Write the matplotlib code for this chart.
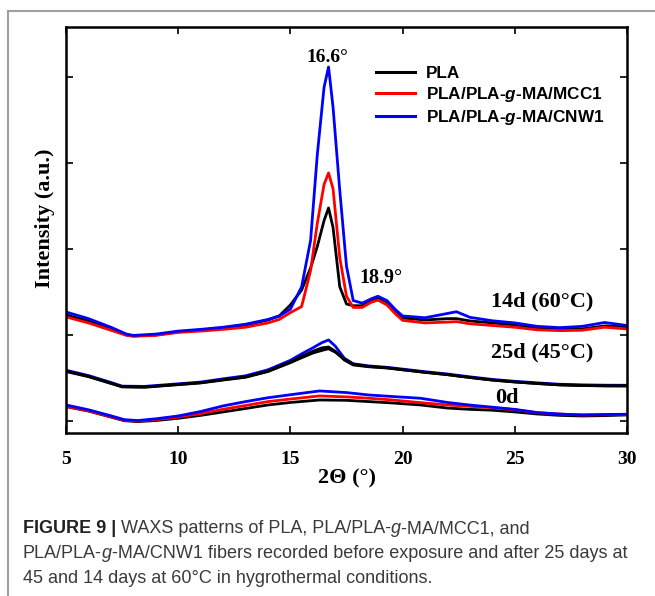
import numpy as np
import matplotlib
matplotlib.use('Agg')
import matplotlib.pyplot as plt
from matplotlib.lines import Line2D

plt.rcParams['mathtext.fontset'] = 'custom'
plt.rcParams['mathtext.it'] = 'Liberation Sans:italic:bold'
plt.rcParams['mathtext.rm'] = 'Liberation Sans:bold'

# 14 days at 60 C
x14 = [5, 6, 7, 7.7, 8, 9, 10, 11, 12, 13, 14, 14.5, 15, 15.5, 15.9, 16.2, 16.5, 16.7, 16.9,
       17.2, 17.5, 17.8, 18.2, 18.6, 18.9, 19.3, 19.7, 20, 21, 22, 22.4, 23, 24, 25, 26, 27, 28, 29, 30]
pla_14 = [1233, 1163, 1070, 1000, 988, 1000, 1035, 1058, 1081, 1116, 1174, 1221, 1349, 1523, 1780,
          2030, 2330, 2477, 2250, 1560, 1360, 1340, 1340, 1400, 1430, 1372, 1267, 1198, 1174, 1190,
          1190, 1163, 1140, 1116, 1081, 1070, 1070, 1105, 1093]
mcc_14 = [1210, 1140, 1055, 995, 985, 995, 1030, 1045, 1065, 1090, 1140, 1180, 1260, 1330, 1750,
          2300, 2750, 2884, 2700, 1900, 1450, 1320, 1320, 1380, 1405, 1350, 1240, 1170, 1140, 1150,
          1155, 1130, 1110, 1090, 1060, 1050, 1055, 1090, 1070]
cnw_14 = [1267, 1190, 1090, 1010, 995, 1010, 1045, 1065, 1090, 1125, 1180, 1220, 1300, 1560, 2100,
          3100, 3880, 4116, 3650, 2680, 1800, 1400, 1370, 1420, 1450, 1400, 1290, 1221, 1200, 1250,
          1270, 1205, 1165, 1140, 1100, 1085, 1100, 1145, 1110]

# 25 days at 45 C
x25 = [5, 6, 7, 7.5, 8.5, 10, 11, 12, 13, 14, 15, 15.5, 16, 16.4, 16.7, 17, 17.4, 17.8, 18.5,
       19.3, 20, 21, 22, 23, 24, 25, 26, 27, 28, 29, 30]
pla_25 = [581, 520, 440, 399, 395, 425, 445, 480, 512, 580, 686, 750, 810, 850, 860, 810, 709, 651,
          630, 616, 595, 565, 538, 505, 475, 453, 435, 419, 412, 408, 407]
mcc_25 = [575, 515, 436, 396, 392, 422, 442, 476, 508, 575, 678, 735, 790, 820, 840, 800, 720, 660,
          634, 618, 596, 566, 539, 506, 476, 454, 436, 420, 413, 409, 408]
cnw_25 = [590, 528, 448, 405, 402, 432, 452, 490, 525, 595, 705, 780, 850, 910, 942, 870, 730, 665,
          640, 624, 603, 573, 546, 513, 483, 461, 443, 427, 420, 416, 415]

# 0 days
x0 = [5, 6, 7, 7.6, 8.2, 9, 10, 11, 12, 13, 14, 15, 16.3, 17.5, 18.5, 19.5, 20.8, 22, 23, 24,
      25, 26, 27, 28, 29, 30]
pla_0 = [167, 115, 45, 3, -8, 5, 31, 65, 105, 145, 186, 215, 244, 240, 225, 210, 186, 150, 135,
         125, 105, 81, 65, 58, 62, 70]
mcc_0 = [170, 118, 50, 8, -2, 15, 45, 85, 136, 180, 225, 255, 291, 280, 264, 245, 213, 186, 170,
         155, 130, 97, 80, 70, 72, 75]
cnw_0 = [186, 130, 60, 15, 5, 25, 58, 110, 175, 225, 270, 305, 349, 330, 302, 285, 264, 215, 185,
         160, 135, 97, 80, 70, 75, 78]

fig = plt.figure(figsize=(6.55, 5.96), dpi=100)
ax = fig.add_axes([66/655, 1-433/596, 561/655, 406/596])

lw = 2.0
ax.plot(x0, pla_0, color='black', lw=lw)
ax.plot(x0, mcc_0, color='red', lw=lw)
ax.plot(x0, cnw_0, color='blue', lw=lw)
ax.plot(x25, cnw_25, color='blue', lw=lw)
ax.plot(x25, mcc_25, color='black', lw=lw)
ax.plot(x25, pla_25, color='black', lw=lw)
ax.plot(x14, pla_14, color='black', lw=lw)
ax.plot(x14, mcc_14, color='red', lw=lw)
ax.plot(x14, cnw_14, color='blue', lw=lw)

ax.set_xlim(5, 30)
ax.set_ylim(-140, 4581)
ax.set_xticks([5, 10, 15, 20, 25, 30])
ax.set_yticks([0, 1000, 2000, 3000, 4000])
ax.set_yticklabels([])
ax.tick_params(direction='in', top=True, right=True, length=5, width=1.2, pad=13)
for lab in ax.get_xticklabels():
    lab.set_fontfamily('Liberation Serif')
    lab.set_fontweight('bold')
    lab.set_fontsize(14)
for sp in ax.spines.values():
    sp.set_linewidth(1.8)

ax.set_xlabel('2Θ (°)', family='Liberation Serif', weight='bold', fontsize=16, labelpad=0)
ax.set_ylabel('Intensity (a.u.)', family='Liberation Serif', weight='bold', fontsize=16)
ax.yaxis.set_label_coords(-0.019, 0.53)

tf = dict(family='Liberation Serif', weight='bold', ha='center', va='center')
ax.text(16.63, 4230, '16.6°', fontsize=14, **tf)
ax.text(19.04, 1663, '18.9°', fontsize=14.5, **tf)
ax.text(26.21, 1384, '14d (60°C)', fontsize=16, **tf)
ax.text(26.21, 791, '25d (45°C)', fontsize=16, **tf)
ax.text(24.65, 267, '0d', fontsize=16, **tf)

handles = [Line2D([], [], color='black', lw=2.2),
           Line2D([], [], color='red', lw=2.2),
           Line2D([], [], color='blue', lw=2.2)]
labels = ['PLA', 'PLA/PLA-$g$-MA/MCC1', 'PLA/PLA-$g$-MA/CNW1']
ax.legend(handles, labels, loc='upper left', bbox_to_anchor=(0.54, 0.922), frameon=False,
          prop={'family': 'Liberation Sans', 'weight': 'bold', 'size': 12.3},
          handlelength=2.3, handletextpad=0.65, labelspacing=0.25, borderaxespad=0)

# caption, pieces placed one after another on the same baseline
renderer = fig.canvas.get_renderer()
cap_lines = [
    [('FIGURE 9 |', 'bold', 'normal', '#222222'), (' WAXS patterns of PLA, PLA/PLA-', 'normal', 'normal', '#3a3a3a'),
     ('g', 'normal', 'italic', '#3a3a3a'), ('-MA/MCC1, and', 'normal', 'normal', '#3a3a3a')],
    [('PLA/PLA-', 'normal', 'normal', '#3a3a3a'), ('g', 'normal', 'italic', '#3a3a3a'),
     ('-MA/CNW1 fibers recorded before exposure and after 25 days at', 'normal', 'normal', '#3a3a3a')],
    [('45 and 14 days at 60°C in hygrothermal conditions.', 'normal', 'normal', '#3a3a3a')],
]
baselines = [533, 558, 583]
for pieces, yb in zip(cap_lines, baselines):
    xp = 23
    for s, w, st, c in pieces:
        t = fig.text(xp/655, 1-yb/596, s, family='Liberation Sans', fontsize=13, weight=w,
                     style=st, color=c, va='baseline', ha='left')
        bb = t.get_window_extent(renderer)
        xp = bb.x1

# frame lines of the figure panel
fig.add_artist(Line2D([8/655, 1], [1-11/596, 1-11/596], color='#a0a0a0', lw=1.5))
fig.add_artist(Line2D([8/655, 8/655], [0, 1-11/596], color='#a0a0a0', lw=1.5))

fig.savefig('out.png', dpi=100)
